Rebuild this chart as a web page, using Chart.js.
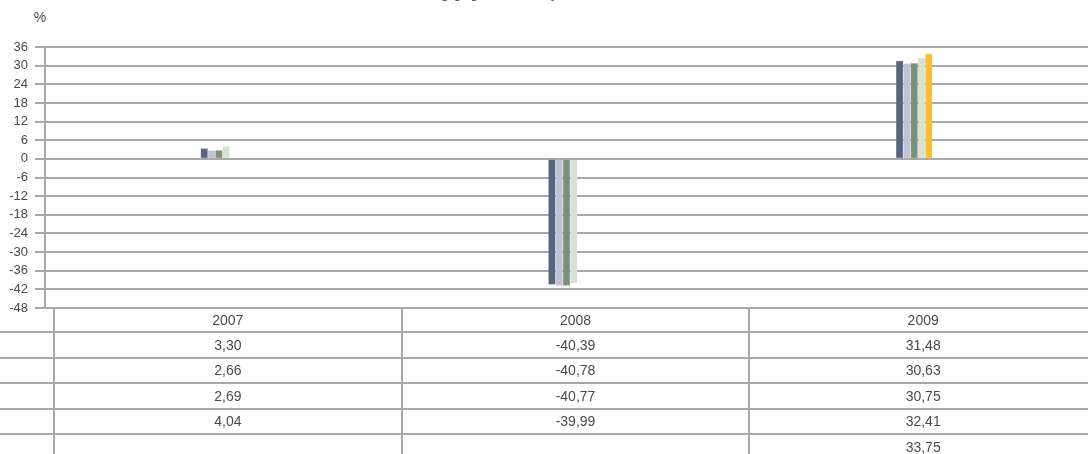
<!DOCTYPE html>
<html>
<head>
<meta charset="utf-8">
<script src="https://cdn.jsdelivr.net/npm/chart.js@4.4.1/dist/chart.umd.min.js"></script>
<style>
  html, body { margin: 0; padding: 0; background: #fff; overflow: hidden; }
  #wrap { position: relative; width: 1088px; height: 454px; }
  #titel {
    position: absolute; top: -16px; left: 300px; width: 340px; text-align: center;
    font: 15px "Liberation Sans", Arial, sans-serif; color: #555; white-space: nowrap;
  }
</style>
</head>
<body>
<div id="wrap">
  <canvas id="chartBase" width="1088" height="454"></canvas>
  <div id="titel">Veränderung gegenüber Vorjahr</div>
</div>
<script>
const jahre = ["2007", "2008", "2009"];
const reihe1 = [3.30, -40.39, 31.48];
const reihe2 = [2.66, -40.78, 30.63];
const reihe3 = [2.69, -40.77, 30.75];
const reihe4 = [4.04, -39.99, 32.41];
const reihe5 = [null, null, 33.75];
const reihenNamen = ["Reihe 1", "Reihe 2", "Reihe 3", "Reihe 4", "Reihe 5"];
const farben = ["#59657f", "#bfc3d8", "#7a927a", "#d6e0d4", "#fcbf2b"];
const yMin = -48;
const yMax = 36;
const yStep = 6;

const grau = "#a8a8a8";
const schrift = '"Liberation Sans", Arial, sans-serif';

function zahl(v) {
  if (v === null || v === undefined) return "";
  return v.toFixed(2).replace(".", ",");
}

// Datentabelle unter dem Diagramm, Spalten aus der x-Achse
const tabellePlugin = {
  id: "tabelle",
  afterDraw(chart) {
    const ctx = chart.ctx;
    const xs = chart.scales.x;
    const area = chart.chartArea;
    const breite = (area.right - area.left) / jahre.length;
    const versatz = 9;
    const kopfH = 24;
    const zeileH = 25.5;
    const oben = area.bottom;
    const reihen = [reihe1, reihe2, reihe3, reihe4, reihe5];

    ctx.save();
    ctx.strokeStyle = grau;
    ctx.lineWidth = 2;

    // senkrechte Linien
    for (let i = 0; i < jahre.length; i++) {
      const x = Math.round(xs.getPixelForValue(i) - breite / 2 + versatz);
      ctx.beginPath();
      ctx.moveTo(x, oben);
      ctx.lineTo(x, chart.height);
      ctx.stroke();
    }
    // waagrechte Linien
    for (let r = 0; r < reihen.length; r++) {
      const y = Math.round(oben + kopfH + r * zeileH);
      ctx.beginPath();
      ctx.moveTo(0, y);
      ctx.lineTo(chart.width, y);
      ctx.stroke();
    }

    ctx.fillStyle = "#4a4a4a";
    ctx.font = "14px " + schrift;
    ctx.textAlign = "center";
    ctx.textBaseline = "middle";
    for (let i = 0; i < jahre.length; i++) {
      const xm = xs.getPixelForValue(i) + versatz;
      ctx.fillText(jahre[i], xm, oben + kopfH / 2 + 1);
      for (let r = 0; r < reihen.length; r++) {
        ctx.fillText(zahl(reihen[r][i]), xm, oben + kopfH + r * zeileH + zeileH / 2 + 1);
      }
    }

    // Einheit
    ctx.fillText("%", 40, 18);
    ctx.restore();
  }
};

function pintarChart() {
  const ctx = document.getElementById("chartBase").getContext("2d");
  const reihen = [reihe1, reihe2, reihe3, reihe4, reihe5];

  new Chart(ctx, {
    type: "bar",
    data: {
      labels: jahre,
      datasets: reihen.map(function (d, i) {
        return {
          label: reihenNamen[i],
          data: d,
          backgroundColor: farben[i],
          borderWidth: 0,
          categoryPercentage: 0.105,
          barPercentage: 0.92
        };
      })
    },
    options: {
      responsive: false,
      animation: false,
      layout: { padding: { top: 47, bottom: 146, left: 0, right: 0 } },
      plugins: {
        legend: { display: false },
        tooltip: { enabled: false }
      },
      scales: {
        x: { display: false },
        y: {
          min: yMin,
          max: yMax,
          afterFit: function (s) { s.width = 45; },
          ticks: {
            stepSize: yStep,
            padding: 7,
            color: "#4a4a4a",
            font: { family: schrift, size: 13 }
          },
          grid: { color: grau, lineWidth: 2, tickLength: 10 },
          border: { display: true, color: grau, width: 2 }
        }
      }
    },
    plugins: [tabellePlugin]
  });
}

pintarChart();
</script>
</body>
</html>
